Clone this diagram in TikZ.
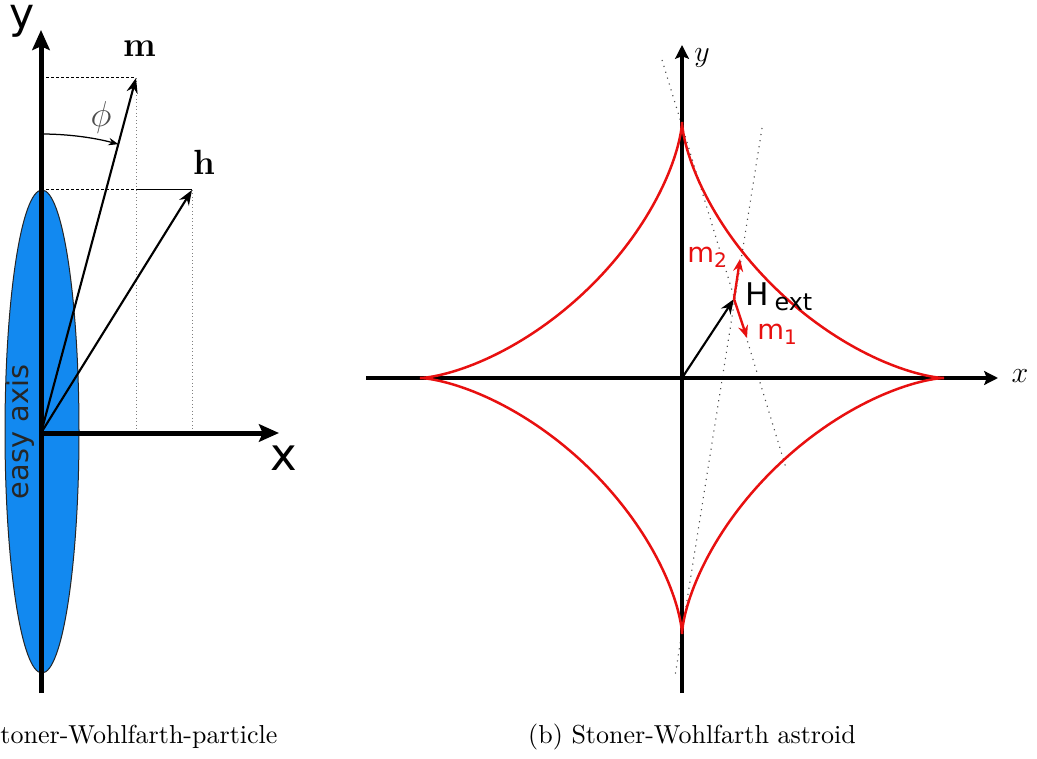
\documentclass[tikz,border=0pt]{standalone}
\usepackage{fontspec}
\newfontfamily\dejavu{DejaVu Sans}
\usetikzlibrary{arrows.meta}
\definecolor{ellblue}{RGB}{18,137,240}
\definecolor{astred}{RGB}{232,16,16}
\begin{document}
\begin{tikzpicture}[x=0.4pt,y=-0.4pt,
  axisL/.style={line width=2pt,-{Stealth[length=8pt,width=7pt,inset=1.5pt]}},
  axisR/.style={line width=1.4pt,-{Stealth[length=5.5pt,width=5.5pt,inset=1pt]}},
  vec/.style={line width=0.85pt,-{Stealth[length=6pt,width=4.5pt]}},
  redvec/.style={astred,line width=0.95pt,-{Stealth[length=5pt,width=4pt]}},
  helper/.style={black!70,line width=0.45pt,dotted},
  proj/.style={gray,line width=0.4pt,densely dotted},
  dashedline/.style={black,line width=0.4pt,dash pattern=on 1.2pt off 0.8pt},
  caption/.style={font=\fontsize{10.4}{12.5}\selectfont,anchor=base},
  sanslab/.style={font=\dejavu\fontsize{11}{13}\selectfont,inner sep=0pt}]
\useasboundingbox (0,0) rectangle (1037,758);

% ---------------- (a) left figure ----------------
\coordinate (O1) at (41,433);
\coordinate (Ytop) at (41,30);
\coordinate (Ybot) at (41,693);
\coordinate (Xtip) at (279,433);
\coordinate (M) at (136,78);
\coordinate (H) at (192,190);
\coordinate (My) at (41,78);
\coordinate (Hy) at (41,190);
\coordinate (Mx) at (136,433);
\coordinate (Hx) at (192,433);
\coordinate (Mmid) at (136,190);

\draw[fill=ellblue,draw=black!85,line width=0.4pt] (42,431.5) ellipse [x radius=37,y radius=241.5];
\node[font=\dejavu\fontsize{11.5}{13}\selectfont,rotate=90,text=black!85] (easy) at (21,432) {easy axis};

\draw[proj] (M) -- (Mx);
\draw[proj] (H) -- (Hx);
\draw[dashedline] (My) -- (M);
\draw[dashedline] (Hy) -- (Mmid);
\draw[black,line width=0.4pt] (Mmid) -- (H);

\draw[axisL] (Ybot) -- (Ytop);
\draw[axisL] (O1) -- (Xtip);
\draw[vec] (O1) -- (M);
\draw[vec] (O1) -- (H);
\draw[line width=0.5pt,-{Stealth[length=4pt,width=3pt]}] (41,134) arc[start angle=-90,end angle=-75,radius=299];

\node[font=\fontsize{14}{16}\selectfont,text=black!70] (phi) at (101,118) {$\phi$};
\node[font=\bfseries\fontsize{14}{16}\selectfont,anchor=base] (mlab) at (140,57) {m};
\node[font=\bfseries\fontsize{14}{16}\selectfont,anchor=base] (hlab) at (204,175) {h};
\node[font=\dejavu\fontsize{17}{19}\selectfont,anchor=base] (ylab) at (22,29) {y};
\node[font=\dejavu\fontsize{18}{20}\selectfont,anchor=base] (xlab) at (284,470) {x};

\node[caption,anchor=base west,inner sep=0pt] (capa) at (0,743) {toner-Wohlfarth-particle};

% ---------------- (b) right figure ----------------
\coordinate (O2) at (682,378);
\coordinate (XL) at (366,378);
\coordinate (XR) at (998,378);
\coordinate (YB) at (682,693);
\coordinate (YT) at (682,45);
\coordinate (Hext) at (734,299);
\coordinate (M2) at (740,259);
\coordinate (M1) at (747,338);
\coordinate (LA1) at (662,60);
\coordinate (LA2) at (786,468);
\coordinate (LB1) at (762,128);
\coordinate (LB2) at (675,676);

\draw[helper] (LA1) -- (LA2);
\draw[helper] (LB1) -- (LB2);

\draw[axisR] (XL) -- (XR);
\draw[axisR] (YB) -- (YT);

\draw[astred,line width=1pt] plot[domain=0:360,samples=361]
  ({682+262*cos(\x)*cos(\x)*cos(\x)},{378-256*sin(\x)*sin(\x)*sin(\x)}) -- cycle;

\draw[vec] (O2) -- (Hext);
\draw[redvec] (Hext) -- (M2);
\draw[redvec] (Hext) -- (M1);

\node[font=\fontsize{12}{14}\selectfont] (yR) at (702,58) {$y$};
\node[font=\fontsize{12}{14}\selectfont] (xR) at (1020,376) {$x$};
\node[sanslab,text=astred] (m2lab) at (707,257) {m\raisebox{-0.35ex}{\fontsize{8}{9}\selectfont 2}};
\node[sanslab,text=astred] (m1lab) at (777,334) {m\raisebox{-0.35ex}{\fontsize{8}{9}\selectfont 1}};
\node[font=\dejavu\fontsize{12.5}{14}\selectfont,inner sep=0pt] (hextlab) at (779,297) {H\,\raisebox{-0.3ex}{\fontsize{9.5}{11}\selectfont ext}};

\node[caption] (capb) at (692,743) {(b) Stoner-Wohlfarth astroid};
\end{tikzpicture}
\end{document}
